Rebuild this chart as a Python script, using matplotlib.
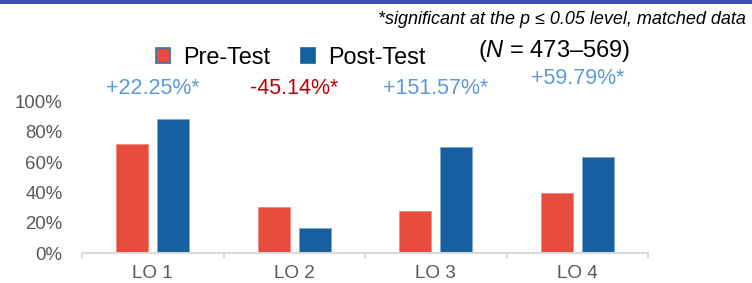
import matplotlib
matplotlib.use("Agg")
import matplotlib.pyplot as plt
from matplotlib.patches import Patch, Rectangle

plt.rcParams['font.family'] = ['Liberation Sans', 'DejaVu Sans']
plt.rcParams['mathtext.fontset'] = 'custom'
plt.rcParams['mathtext.it'] = 'Liberation Sans:italic'
plt.rcParams['mathtext.rm'] = 'Liberation Sans'

categories = ["LO 1", "LO 2", "LO 3", "LO 4"]
pre_test = [72.2, 30.4, 27.9, 39.8]
post_test = [88.3, 16.7, 70.2, 63.6]
changes = ["+22.25%*", "-45.14%*", "+151.57%*", "+59.79%*"]
change_colors = ["#5B9BD5", "#C00000", "#5B9BD5", "#5B9BD5"]
yticks = [0, 20, 40, 60, 80, 100]

RED = "#E84C3D"
BLUE = "#1660A0"
GRAY = "#595959"
AXGRAY = "#D9D9D9"

W, H = 752, 283
fig = plt.figure(figsize=(W / 100, H / 100), dpi=100)
ax = fig.add_axes([82 / W, 1 - 253.3 / H, (648 - 82) / W, (253.3 - 101.3) / H])

x = list(range(len(categories)))
bw = 0.226
off = 0.145
ax.bar([i - off for i in x], pre_test, width=bw, color=RED, edgecolor="#F08a80", linewidth=0.6)
ax.bar([i + off for i in x], post_test, width=bw, color=BLUE, edgecolor="#7FA6CC", linewidth=0.6)

ax.set_xlim(-0.5, len(categories) - 0.5)
ax.set_ylim(0, 100)
ax.set_yticks(yticks)
ax.set_yticklabels([f"{v}%" for v in yticks], fontsize=13.4, color=GRAY)
ax.tick_params(axis='y', length=0, pad=13.9)

ax.set_xticks([i - 0.5 for i in range(len(categories) + 1)])
ax.set_xticklabels([])
ax.tick_params(axis='x', which='major', length=3.6, width=1.44, color=AXGRAY, direction='out')
ax.set_xticks(x, minor=True)
ax.set_xticklabels(categories, minor=True, fontsize=13.6, color=GRAY)
ax.tick_params(axis='x', which='minor', length=0, pad=8.2)

for s in ['top', 'right', 'left']:
    ax.spines[s].set_visible(False)
ax.spines['bottom'].set_color(AXGRAY)
ax.spines['bottom'].set_linewidth(1.44)

# change labels
label_y = [108.5, 108.5, 108.5, 115.1]
for i, (t, c) in enumerate(zip(changes, change_colors)):
    ax.text(i, label_y[i], t, color=c, fontsize=15.5, ha='center', va='center', clip_on=False)

# top band
fig.patches.append(Rectangle((0, 1 - 3.5 / H), 1, 3.5 / H, transform=fig.transFigure,
                             facecolor="#4050B8", edgecolor='none'))

fig.text(746 / W, 1 - 20 / H, "*significant at the p \u2264 0.05 level, matched data",
         fontsize=13, style='italic', ha='right', va='center', color='black')

fig.text(554.5 / W, 1 - 51 / H, "($\\it{N}$ = 473\u2013569)", fontsize=17, ha='center', va='center', color='black')

handles = [Patch(facecolor=RED, edgecolor="#2E75B6", linewidth=1.2, label="Pre-Test"),
           Patch(facecolor=BLUE, edgecolor=BLUE, linewidth=1.2, label="Post-Test")]
fig.legend(handles=handles, loc='center left', bbox_to_anchor=(156 / W, 1 - 57 / H),
           ncol=2, frameon=False, fontsize=16.8, handlelength=0.61, handleheight=0.61,
           handletextpad=0.56, columnspacing=1.3, borderpad=0, borderaxespad=0)

fig.savefig("out.png", dpi=100)
